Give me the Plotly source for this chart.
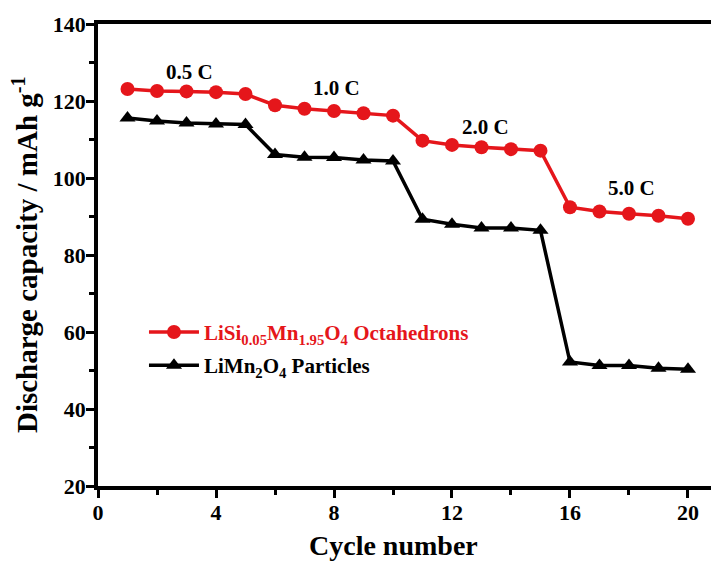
import plotly.graph_objects as go

# Rate capability: discharge capacity at each cycle
cycles = list(range(1, 21))
octahedrons = [123.1, 122.6, 122.5, 122.3, 121.8,
               118.9, 118.0, 117.4, 116.8, 116.2,
               109.7, 108.6, 108.0, 107.5, 107.1,
               92.4, 91.3, 90.7, 90.2, 89.4]
particles = [115.6, 114.8, 114.3, 114.0, 113.9,
             106.1, 105.4, 105.3, 104.7, 104.4,
             89.3, 88.0, 87.0, 87.0, 86.4,
             52.2, 51.3, 51.3, 50.6, 50.3]

rate_labels = ["0.5 C", "1.0 C", "2.0 C", "5.0 C"]
rate_label_x = [3.1, 8.1, 13.15, 18.1]
rate_label_y = [127.6, 123.4, 113.2, 97.4]

x_ticks = [0, 4, 8, 12, 16, 20]
y_ticks = [20, 40, 60, 80, 100, 120, 140]

RED = "#e5161b"
BLACK = "#000000"
FONT = "Liberation Serif"

fig = go.Figure()
fig.add_trace(go.Scatter(
    x=cycles, y=octahedrons, mode="lines+markers",
    name=f"<b><span style='color:{RED}'>LiSi<sub>0.05</sub>Mn<sub>1.95</sub>O<sub>4</sub> Octahedrons</span></b>",
    legendgroup="a",
    line=dict(color=RED, width=3.5),
    marker=dict(symbol="circle", size=14, color=RED),
))
fig.add_trace(go.Scatter(
    x=cycles, y=particles, mode="lines+markers",
    name="<b>LiMn<sub>2</sub>O<sub>4</sub> Particles</b>",
    legendgroup="b",
    line=dict(color=BLACK, width=3.5),
    marker=dict(symbol="triangle-up", size=14, color=BLACK),
))

for txt, lx, ly in zip(rate_labels, rate_label_x, rate_label_y):
    fig.add_annotation(x=lx, y=ly, text=f"<b>{txt}</b>", showarrow=False,
                       font=dict(family=FONT, size=21, color=BLACK))

# Axis titles
fig.add_annotation(x=10, y=-0.128, xref="x", yref="paper",
                   text="<b>Cycle number</b>", showarrow=False,
                   yanchor="middle", font=dict(family=FONT, size=28, color=BLACK))
fig.add_annotation(x=-0.119, y=0.5, xref="paper", yref="paper",
                   xanchor="center", yanchor="middle",
                   text="<b>Discharge capacity / mAh g<sup>-1</sup></b>",
                   textangle=-90, showarrow=False,
                   font=dict(family=FONT, size=29, color=BLACK))

fig.update_layout(
    width=711, height=567,
    margin=dict(l=98, r=0, t=24, b=81),
    plot_bgcolor="white", paper_bgcolor="white",
    font=dict(family=FONT, color=BLACK),
    showlegend=True,
    legend=dict(x=0.075, y=0.297, xanchor="left", yanchor="middle",
                bgcolor="rgba(0,0,0,0)", font=dict(family=FONT, size=21),
                traceorder="grouped", tracegroupgap=3, itemwidth=50),
)
fig.update_xaxes(
    range=[0, 20.78], tickvals=x_ticks, ticktext=[f"<b>{v}</b>" for v in x_ticks],
    showgrid=False, zeroline=False,
    showline=True, linewidth=3.5, linecolor=BLACK, mirror=True,
    ticks="outside", ticklen=8, tickwidth=3, tickcolor=BLACK,
    ticklabelstandoff=-4,
    tickfont=dict(family=FONT, size=22, color=BLACK),
    minor=dict(dtick=2, tick0=0, ticks="outside", ticklen=5, tickwidth=3, tickcolor=BLACK),
)
fig.update_yaxes(
    range=[20, 140], tickvals=y_ticks, ticktext=[f"<b>{v}</b>" for v in y_ticks],
    showgrid=False, zeroline=False,
    showline=True, linewidth=3.5, linecolor=BLACK, mirror=False,
    ticks="outside", ticklen=8, tickwidth=3, tickcolor=BLACK,
    ticklabelstandoff=-4,
    tickfont=dict(family=FONT, size=22, color=BLACK),
    minor=dict(dtick=10, tick0=0, ticks="outside", ticklen=5, tickwidth=3, tickcolor=BLACK),
)

fig.write_html("out.html")
